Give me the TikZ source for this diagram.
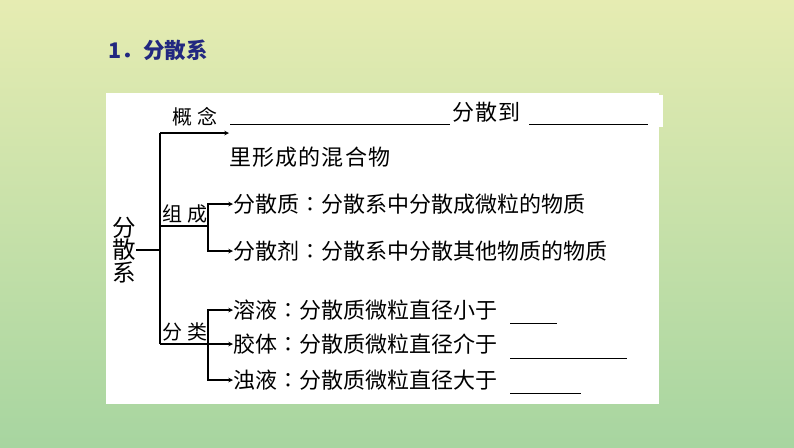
\documentclass[tikz,border=0pt]{standalone}
\usepackage{fontspec}
\newfontfamily\cjk{Noto Sans CJK SC}
\usetikzlibrary{arrows,positioning}
\definecolor{bgtop}{RGB}{230,236,178}
\definecolor{bgbot}{RGB}{167,213,160}
\definecolor{titleblue}{RGB}{34,40,128}

\begin{document}
\begin{tikzpicture}[x=1pt,y=-1pt,>=stealth,line width=1.1pt,
        every node/.style={inner sep=0pt,font=\cjk\fontsize{22}{24}\selectfont},
        body/.style={anchor=west},
        tag/.style={anchor=south west,font=\cjk\fontsize{20}{22}\selectfont},
        blank/.style={line width=0.9pt}]
        % background and white card
        \fill[top color=bgtop,bottom color=bgbot] (0,0) rectangle (794,447);
        \fill[white] (106,93) rectangle (659,404);
        \fill[white] (659,95) rectangle (663,127);

        \node[anchor=west,text=titleblue,font=\cjk\bfseries\fontsize{21.5}{22}\selectfont] (title) at (108,50) {1．分散系};

        % root and trunk
        \node[align=center,font=\cjk\fontsize{23.5}{22.5}\selectfont] (root) at (124,250) {分\\散\\系};
        \coordinate (trunk top) at (160,133);
        \coordinate (trunk mid) at (160,250);
        \coordinate (trunk bot) at (160,344);
        \draw (root) -- (trunk mid);
        \draw (trunk top) -- (trunk bot);

        % concept
        \node[tag,anchor=center] (gn) at (195,117) {概\hspace{5pt}念};
        \coordinate (gn tip) at (229,133);
        \draw[->] (trunk top) -- (gn tip);
        \draw[blank] (230,124) -- (450,124);
        \node[body,font=\cjk\fontsize{22}{24}\selectfont\addfontfeature{LetterSpace=5}] (fsd) at (452,112) {分散到};
        \draw[blank] (529,124) -- (648,124);
        \node[body,font=\cjk\fontsize{22}{24}\selectfont\addfontfeature{LetterSpace=5}] (hunhe) at (229,157) {里形成的混合物};

        % composition
        \node[tag] (zc) at (162,224) {组\hspace{5pt}成};
        \coordinate (zc end) at (208,226);
        \node[body] (zhi) at (233,204) {分散质∶分散系中分散成微粒的物质};
        \node[body] (ji) at (233,251) {分散剂∶分散系中分散其他物质的物质};
        \draw (trunk mid |- zc end) -- (zc end);
        \draw[->] (zc end) |- (zhi.west);
        \draw[->] (zc end) |- (ji.west);

        % classification
        \node[tag] (fl) at (162,342) {分\hspace{5pt}类};
        \coordinate (fl end) at (208,344);
        \node[body] (ry) at (233,310) {溶液∶分散质微粒直径小于};
        \node[body] (jt) at (233,344) {胶体∶分散质微粒直径介于};
        \node[body] (zy) at (233,380) {浊液∶分散质微粒直径大于};
        \draw (trunk bot) -- (fl end);
        \draw[->] (fl end) |- (ry.west);
        \draw[->] (fl end) -- (jt.west);
        \draw[->] (fl end) |- (zy.west);
        \draw[blank] (510,323) -- (557,323);
        \draw[blank] (510,358) -- (627,358);
        \draw[blank] (510,393) -- (581,393);
\end{tikzpicture}
\end{document}
